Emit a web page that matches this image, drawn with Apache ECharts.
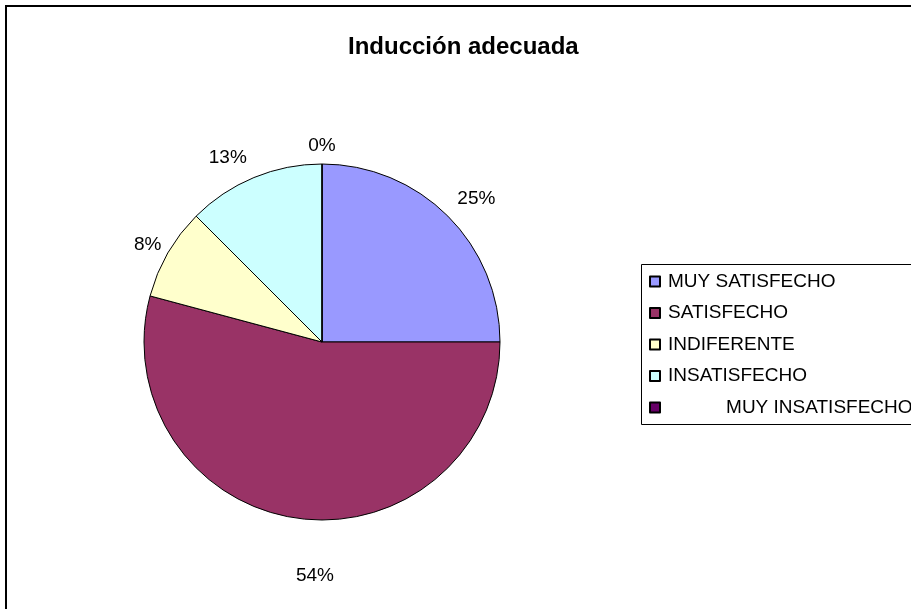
<!DOCTYPE html>
<html>
<head>
<meta charset="utf-8">
<script src="https://cdn.jsdelivr.net/npm/echarts@6/dist/echarts.min.js"></script>
<style>
html,body{margin:0;padding:0;background:#fff;}
#main{width:911px;height:609px;}
</style>
</head>
<body>
<div id="main"></div>
<script>
const titleText = 'Inducción adecuada';
const categories = ['MUY SATISFECHO', 'SATISFECHO', 'INDIFERENTE', 'INSATISFECHO', 'MUY INSATISFECHO'];
const legendLabels = ['MUY SATISFECHO', 'SATISFECHO', 'INDIFERENTE', 'INSATISFECHO', '           MUY INSATISFECHO'];
const values = [6, 13, 2, 3, 0];
const colors = ['#9999FF', '#993366', '#FFFFCC', '#CCFFFF', '#660066'];

const total = values.reduce((a, b) => a + b, 0);
const pieData = categories.map((c, i) => ({
  name: c, value: values[i], itemStyle: { color: colors[i] }
}));
// label nudges (style only): horizontal via padding, vertical via line height
const labelPads = [[0, 0, 0, 16], [0, 0, 0, 40], [0, 0, 0, 10], [0, 30, 0, 0], [0, 0, 0, 0]];
const labelLineHeights = [6, 58, 12, 14, 22];
const labelData = categories.map((c, i) => ({
  name: c + '_lbl', value: values[i],
  label: { padding: labelPads[i], lineHeight: labelLineHeights[i] }
}));

const chart = echarts.init(document.getElementById('main'), null, { renderer: 'canvas' });
const font = 'Liberation Sans, Arial, sans-serif';
chart.setOption({
  animation: false,
  backgroundColor: '#fff',
  title: {
    text: titleText, left: 343, top: 30,
    textStyle: { fontFamily: font, fontSize: 24, fontWeight: 'bold', color: '#000' }
  },
  legend: {
    orient: 'vertical', left: 649, top: 272, padding: 0,
    itemWidth: 10, itemHeight: 10, itemGap: 12.5,
    icon: 'rect',
    data: categories,
    formatter: function (n) { return legendLabels[categories.indexOf(n)]; },
    textStyle: { fontFamily: font, fontSize: 19, color: '#000', padding: [0, 0, 0, 3] },
    selectedMode: false
  },
  graphic: [
    { type: 'rect', shape: { x: 6, y: 6, width: 1000, height: 1000 }, style: { fill: 'none', stroke: '#000', lineWidth: 2 }, z: 100 },
    { type: 'rect', shape: { x: 641.5, y: 264.5, width: 400, height: 160 }, style: { fill: 'none', stroke: '#000', lineWidth: 1 }, z: 100 }
  ],
  series: [
    {
      type: 'pie', center: [322, 342], radius: 178, startAngle: 90, clockwise: true,
      data: pieData, label: { show: false }, labelLine: { show: false },
      itemStyle: { borderColor: '#000', borderWidth: 1 },
      emphasis: { disabled: true }, silent: true
    },
    {
      type: 'pie', center: [322, 342], radius: [194, 214], startAngle: 90, clockwise: true,
      data: labelData,
      itemStyle: { color: 'rgba(0,0,0,0)' },
      label: {
        show: true, position: 'inside', fontFamily: font, fontSize: 19, color: '#000',
        formatter: function (p) { return '\n' + Math.round(p.value / total * 100) + '%'; }
      },
      labelLine: { show: false }, emphasis: { disabled: true }, silent: true,
      minShowLabelAngle: -1, stillShowZeroSum: true
    }
  ]
});
</script>
</body>
</html>
